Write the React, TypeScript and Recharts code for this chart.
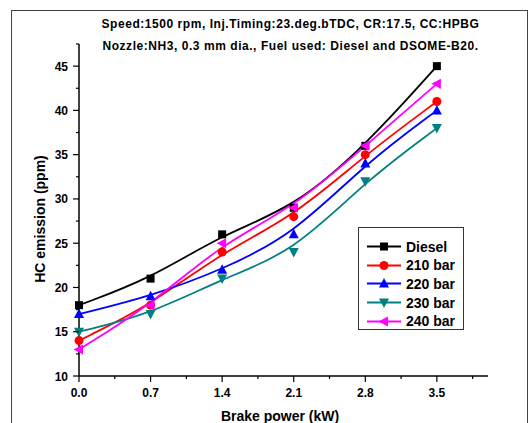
import React from "react";
import { LineChart, Line, XAxis, YAxis } from "recharts";

const POWER = [0, 0.7, 1.4, 2.1, 2.8, 3.5];
const DIESEL = [18, 21, 26, 29, 36, 45];
const BAR_210 = [14, 18, 24, 28, 35, 41];
const BAR_220 = [17, 19, 22, 26, 34, 40];
const BAR_230 = [15, 17, 21, 24, 32, 38];
const BAR_240 = [13, 18, 25, 29, 36, 43];

const X_TICKS = [0, 0.35, 0.7, 1.05, 1.4, 1.75, 2.1, 2.45, 2.8, 3.15, 3.5, 3.85];
const Y_TICKS = [10, 12.5, 15, 17.5, 20, 22.5, 25, 27.5, 30, 32.5, 35, 37.5, 40, 42.5, 45, 47.5];

const TITLE_1 = "Speed:1500 rpm, Inj.Timing:23.deg.bTDC, CR:17.5, CC:HPBG";
const TITLE_2 = "Nozzle:NH3, 0.3 mm dia., Fuel used: Diesel and DSOME-B20.";

type Kind = "square" | "circle" | "up" | "down" | "left";

const SERIES: { key: string; name: string; color: string; kind: Kind; values: number[] }[] = [
  { key: "diesel", name: "Diesel", color: "#000000", kind: "square", values: DIESEL },
  { key: "b210", name: "210 bar", color: "#ff0000", kind: "circle", values: BAR_210 },
  { key: "b220", name: "220 bar", color: "#0000ff", kind: "up", values: BAR_220 },
  { key: "b230", name: "230 bar", color: "#008080", kind: "down", values: BAR_230 },
  { key: "b240", name: "240 bar", color: "#ff00ff", kind: "left", values: BAR_240 },
];

const data = POWER.map((p, i) => {
  const row: Record<string, number> = { power: p };
  SERIES.forEach((s) => (row[s.key] = s.values[i]));
  return row;
});

const FONT = '"Liberation Sans", Arial, sans-serif';

function Marker({ kind, cx, cy, color }: { kind: Kind; cx: number; cy: number; color: string }) {
  const s = 4;
  if (kind === "square") return <rect x={cx - s} y={cy - s} width={2 * s} height={2 * s} fill={color} />;
  if (kind === "circle") return <circle cx={cx} cy={cy} r={s + 0.5} fill={color} />;
  let pts = "";
  if (kind === "up") pts = `${cx},${cy - s - 1.5} ${cx + s + 1},${cy + s} ${cx - s - 1},${cy + s}`;
  if (kind === "down") pts = `${cx},${cy + s + 1.5} ${cx + s + 1},${cy - s} ${cx - s - 1},${cy - s}`;
  if (kind === "left") pts = `${cx - s - 1.5},${cy} ${cx + s},${cy - s - 1} ${cx + s},${cy + s + 1}`;
  return <polygon points={pts} fill={color} />;
}

const isMajor = (v: number, step: number) => Math.abs(v / step - Math.round(v / step)) < 1e-6;

function XTick(props: any) {
  const { x, y, payload } = props;
  const major = isMajor(payload.value, 0.7);
  return (
    <g>
      <line x1={x} x2={x} y1={y} y2={y + (major ? 6 : 3)} stroke="#000" strokeWidth={1.2} />
      {major && (
        <text x={x} y={y + 21} textAnchor="middle" fontSize={12} fontWeight="bold" fontFamily={FONT} fill="#000">
          {payload.value.toFixed(1)}
        </text>
      )}
    </g>
  );
}

function YTick(props: any) {
  const { x, y, payload } = props;
  const major = isMajor(payload.value, 5);
  return (
    <g>
      <line x1={x} x2={x - (major ? 6 : 3)} y1={y} y2={y} stroke="#000" strokeWidth={1.2} />
      {major && (
        <text x={x - 11} y={y + 4.5} textAnchor="end" fontSize={12} fontWeight="bold" fontFamily={FONT} fill="#000">
          {payload.value}
        </text>
      )}
    </g>
  );
}

export default function App() {
  return (
    <div
      style={{
        position: "absolute",
        left: 0,
        top: 0,
        width: 528,
        height: 423,
        background: "#fff",
        overflow: "hidden",
        fontFamily: FONT,
      }}
    >
      {/* frame */}
      <div
        style={{
          position: "absolute",
          left: 11,
          top: 10,
          width: 515,
          height: 440,
          border: "1px solid #444",
        }}
      />
      <div
        style={{
          position: "absolute",
          left: 0,
          width: 581,
          top: 13,
          textAlign: "center",
          fontSize: 12,
          letterSpacing: 0.55,
          fontWeight: "bold",
          lineHeight: "22px",
        }}
      >
        <div>{TITLE_1}</div>
        <div>{TITLE_2}</div>
      </div>

      <LineChart
        width={528}
        height={423}
        data={data}
        margin={{ top: 44, right: 40, bottom: 0, left: 0 }}
        style={{ position: "absolute", left: 0, top: 0 }}
      >
        <XAxis
          dataKey="power"
          type="number"
          domain={[0, 4]}
          ticks={X_TICKS}
          interval={0}
          height={47}
          tickSize={0}
          tickMargin={0}
          tickLine={false}
          axisLine={{ stroke: "#000", strokeWidth: 1.5 }}
          tick={<XTick />}
        />
        <YAxis
          type="number"
          domain={[10, 47.5]}
          ticks={Y_TICKS}
          interval={0}
          width={79}
          tickSize={0}
          tickMargin={0}
          tickLine={false}
          axisLine={{ stroke: "#000", strokeWidth: 1.5 }}
          tick={<YTick />}
        />
        {SERIES.map((s) => (
          <Line
            key={s.key}
            dataKey={s.key}
            name={s.name}
            type="basis"
            stroke={s.color}
            strokeWidth={1.8}
            isAnimationActive={false}
            dot={(p: any) => <Marker key={`${s.key}-${p.index}`} kind={s.kind} cx={p.cx} cy={p.cy} color={s.color} />}
            activeDot={false}
          />
        ))}
      </LineChart>

      {/* axis titles */}
      <div
        style={{
          position: "absolute",
          left: 40,
          top: 219,
          transform: "translate(-50%, -50%) rotate(-90deg)",
          whiteSpace: "nowrap",
          fontSize: 14,
          fontWeight: "bold",
        }}
      >
        HC emission (ppm)
      </div>
      <div
        style={{
          position: "absolute",
          left: 280,
          top: 408,
          transform: "translateX(-50%)",
          whiteSpace: "nowrap",
          fontSize: 14,
          fontWeight: "bold",
        }}
      >
        Brake power (kW)
      </div>

      {/* legend */}
      <div
        style={{
          position: "absolute",
          left: 358,
          top: 227,
          width: 104,
          height: 101,
          border: "1px solid #333",
          background: "#fff",
        }}
      >
        {SERIES.map((s, i) => (
          <div
            key={s.key}
            style={{
              position: "absolute",
              left: 7,
              top: 9 + i * 18.7,
              height: 19,
              display: "flex",
              alignItems: "center",
            }}
          >
            <svg width={36} height={19}>
              <line x1={1} x2={35} y1={9.5} y2={9.5} stroke={s.color} strokeWidth={1.8} />
              <Marker kind={s.kind} cx={18} cy={9.5} color={s.color} />
            </svg>
            <span style={{ marginLeft: 4, fontSize: 14, fontWeight: "bold" }}>{s.name}</span>
          </div>
        ))}
      </div>
    </div>
  );
}
